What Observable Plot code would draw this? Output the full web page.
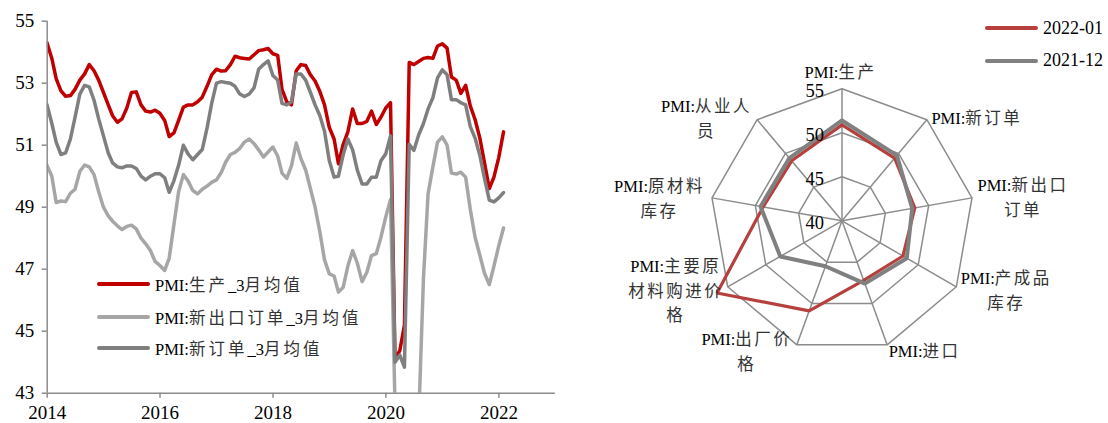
<!DOCTYPE html>
<html>
<head>
<meta charset="utf-8">
<script src="https://cdn.jsdelivr.net/npm/d3@7"></script>
<script src="https://cdn.jsdelivr.net/npm/@observablehq/plot@0.6"></script>
<style>
  body { margin: 0; background: #fff; }
  #wrap { position: relative; width: 1108px; height: 423px; overflow: hidden;
          font-family: "Liberation Serif", "Noto Sans CJK SC", serif; color: #000; }
  #line, #radar { position: absolute; top: 0; }
  #line { left: 0; }
  #radar { left: 560px; }
  #line svg [aria-label="y-axis tick"], #line svg [aria-label="x-axis tick"] { stroke: #8c8c8c; stroke-width: 1.5px; }
  #line svg [aria-label="y-axis tick label"], #line svg [aria-label="x-axis tick label"] { fill: #000; font-size: 19px; }
  .legend-row { position: absolute; height: 24px; display: flex; align-items: center; white-space: nowrap; }
  .swatch { display: inline-block; width: 53px; height: 4px; border-radius: 2px; margin-right: 5px; }
  .cjk { letter-spacing: 3px; color: #333; }
</style>
</head>
<body>
<div id="wrap">
  <div id="line"></div>
  <div id="radar"></div>
  <div id="legendLine"></div>
  <div id="legendRadar"></div>
</div>
<script>
// ---------- Line chart: 3-month averages of PMI sub-indices, monthly from 2013-12 ----------
const firstMonth = "2013-12";

const production3m = [
  54.3, 53.8, 53.15, 52.75, 52.58, 52.6, 52.8, 53.1, 53.3, 53.6, 53.4, 53.1,
  52.7, 52.3, 51.95, 51.74, 51.85, 52.2, 52.7, 52.72, 52.3, 52.1, 52.07, 52.13,
  52.03, 51.8, 51.28, 51.4, 51.8, 52.23, 52.3, 52.3, 52.4, 52.55, 52.9, 53.27,
  53.45, 53.39, 53.4, 53.6, 53.87, 53.82, 53.8, 53.78, 53.92, 54.05, 54.08, 54.12,
  53.95, 53.9, 52.8, 52.4, 52.3, 53.4, 53.6, 53.57, 53.27, 53.07, 52.73, 52.3,
  51.57, 51.2, 50.4, 51.03, 51.43, 52.17, 51.7, 51.7, 51.77, 52.1, 51.67, 51.9,
  52.2, 52.37, 44.1, 44.37, 45.2, 53.67, 53.6, 53.7, 53.8, 53.83, 53.8, 54.2,
  54.27, 54.13, 53.2, 53.1, 52.67, 52.93, 52.27, 51.83, 51.23, 50.43, 49.6, 49.97,
  50.6, 51.43
];

const newExport3m = [
  50.35, 50.0, 49.15, 49.2, 49.18, 49.45, 49.58, 50.15, 50.36, 50.3, 50.05, 49.5,
  49.0, 48.72, 48.55, 48.4, 48.28, 48.38, 48.42, 48.3, 48.0, 47.82, 47.6, 47.25,
  47.12, 46.96, 47.35, 48.45, 49.5, 50.05, 49.85, 49.54, 49.43, 49.58, 49.68, 49.8,
  49.88, 50.12, 50.45, 50.7, 50.77, 50.9, 51.1, 51.2, 51.05, 50.85, 50.62, 50.78,
  50.94, 50.65, 50.1, 49.93, 50.33, 51.07, 50.57, 50.2, 49.6, 49.0, 48.2, 47.3,
  46.85, 46.78, 46.26, 46.42, 47.1, 47.6, 47.2, 46.6, 46.9, 47.44, 47.5, 48.03,
  48.68, 49.25, 42.6, 41.3, 36.2, 38.4, 37.1, 42.1, 46.7, 49.43, 50.3, 51.1,
  51.27, 51.0, 50.1, 50.07, 50.13, 49.97, 48.93, 48.03, 47.45, 46.87, 46.5, 47.1,
  47.75, 48.33
];

const newOrders3m = [
  52.3, 51.7, 51.1, 50.7, 50.75, 51.2, 51.9, 52.65, 52.93, 52.88, 52.45, 51.85,
  51.3, 50.75, 50.43, 50.3, 50.27, 50.33, 50.33, 50.25, 50.0, 49.88, 50.0, 50.08,
  50.08, 49.95, 49.48, 49.86, 50.35, 51.0, 50.72, 50.53, 50.7, 50.86, 51.55, 52.35,
  53.0, 53.05, 53.02, 53.0, 52.9, 52.65, 52.57, 52.65, 52.85, 53.45, 53.6, 53.72,
  53.25, 53.1, 52.35, 52.3, 52.4, 53.3, 53.3, 53.1, 52.7, 52.3, 51.95, 51.45,
  50.5, 49.97, 50.0, 50.7, 51.2, 50.85, 50.2, 49.75, 49.75, 49.97, 49.97, 50.5,
  50.72, 51.3, 44.0, 44.23, 43.84, 51.03, 50.83, 51.33, 51.7, 52.17, 52.53, 53.17,
  53.43, 53.27, 52.47, 52.47, 52.37, 52.3, 51.6, 51.23, 50.67, 49.93, 49.23, 49.17,
  49.3, 49.47
];

const lineSeries = [
  {name: "PMI:生产_3月均值", values: production3m, color: "#c00000"},
  {name: "PMI:新出口订单_3月均值", values: newExport3m, color: "#a6a6a6"},
  {name: "PMI:新订单_3月均值", values: newOrders3m, color: "#7f7f7f"}
];

const yTicks = [43, 45, 47, 49, 51, 53, 55];
const xTickYears = [2014, 2016, 2018, 2020, 2022];
const xDomain = [new Date(Date.UTC(2014, 0, 1)), new Date(Date.UTC(2023, 0, 1))];

// Each monthly value is dated at the last day of its month.
const start = d3.utcParse("%Y-%m")(firstMonth);
const monthEnd = i => d3.utcDay.offset(d3.utcMonth.offset(start, i + 1), -1);

const lineMarks = lineSeries.map(s =>
  Plot.line(s.values.map((v, i) => ({date: monthEnd(i), value: v})), {
    x: "date", y: "value", stroke: s.color, strokeWidth: 3.5,
    strokeLinejoin: "round", strokeLinecap: "round", clip: true
  })
);

const lineChart = Plot.plot({
  width: 560, height: 423,
  marginLeft: 46.7, marginRight: 5.2, marginTop: 20.7, marginBottom: 30.3,
  style: {fontFamily: '"Liberation Serif", "Noto Sans CJK SC", serif', fontSize: "19px", background: "transparent"},
  x: {type: "utc", domain: xDomain, label: null},
  y: {domain: [43, 55], label: null},
  marks: [
    ...lineMarks,
    Plot.ruleY([43], {stroke: "#8c8c8c", strokeWidth: 1.5}),
    Plot.ruleX([xDomain[0]], {stroke: "#8c8c8c", strokeWidth: 1.5}),
    Plot.axisY(yTicks, {tickSize: 5, tickPadding: 8, label: null}),
    Plot.axisX(xTickYears.map(y => new Date(Date.UTC(y, 0, 1))),
      {tickSize: 5, tickPadding: 7, tickFormat: d3.utcFormat("%Y"), label: null})
  ]
});
document.getElementById("line").append(lineChart);

// ---------- Radar chart: PMI sub-indices, 2022-01 vs 2021-12 ----------
const radarAxes = [
  "PMI:生产", "PMI:新订单", "PMI:新出口\n订单", "PMI:产成品\n库存", "PMI:进口",
  "PMI:出厂价\n格", "PMI:主要原\n材料购进价\n格", "PMI:原材料\n库存", "PMI:从业人\n员"
];
const jan2022 = [50.9, 49.3, 48.4, 48.0, 47.2, 50.9, 56.4, 49.1, 48.9];
const dec2021 = [51.4, 49.7, 48.1, 48.5, 47.6, 45.5, 48.1, 49.4, 49.3];
const radarTicks = [40, 45, 50, 55];
const radarRings = [45, 50, 55];
const radarSeries = [
  {name: "2022-01", values: jan2022, color: "#b5403d", width: 3.2},
  {name: "2021-12", values: dec2021, color: "#808080", width: 4}
];

// label block offsets from each spoke end (px)
const labelOffsets = [
  [-1.5, -19], [50, -4], [51, -2], [50, 2], [37.5, 4],
  [-50, 5], [-52, 2], [-52.5, -1], [-50.6, -3]
];

const rMin = radarTicks[0], rMax = radarTicks[radarTicks.length - 1];
const n = radarAxes.length;
const angle = k => (k * 2 * Math.PI) / n;
const polar = (k, v) => {
  const r = (v - rMin) / (rMax - rMin);
  return {x: r * Math.sin(angle(k)), y: r * Math.cos(angle(k))};
};
const closedPath = (vals, key) =>
  [...vals, vals[0]].map((v, i) => ({...polar(i % n, v), key}));

const R = 132, cxL = 281.5, cyL = 220.3, RW = 548, RH = 423;

const ringRows = radarRings.flatMap(v => closedPath(Array(n).fill(v), "ring" + v));
const spokes = radarAxes.map((a, k) => ({...polar(k, rMax), k}));
const labelRows = radarAxes.map((a, k) => ({...polar(k, rMax), label: a, dx: labelOffsets[k][0], dy: labelOffsets[k][1]}));

const radar = Plot.plot({
  width: RW, height: RH,
  marginLeft: cxL - R, marginRight: RW - cxL - R, marginTop: cyL - R, marginBottom: RH - cyL - R,
  style: {fontFamily: '"Liberation Serif", "Noto Sans CJK SC", serif', background: "transparent", overflow: "visible"},
  x: {domain: [-1, 1], axis: null},
  y: {domain: [-1, 1], axis: null},
  marks: [
    Plot.line(ringRows, {x: "x", y: "y", z: "key", stroke: "#8c8c8c", strokeWidth: 1.5}),
    Plot.link(spokes, {x1: 0, y1: 0, x2: "x", y2: "y", stroke: "#8c8c8c", strokeWidth: 1.5}),
    ...radarSeries.map(s => Plot.line(closedPath(s.values, s.name), {
      x: "x", y: "y", stroke: s.color, strokeWidth: s.width, strokeLinejoin: "miter"
    })),
    Plot.text(radarTicks, {x: 0, y: v => (v - rMin) / (rMax - rMin), text: d => String(d),
      textAnchor: "end", dx: -18, dy: 2.5, fontSize: 18.5, fill: "#000"}),
    ...labelRows.map(d => Plot.text([d], {x: "x", y: "y", text: "label", dx: d.dx, dy: d.dy,
      textAnchor: "middle", lineAnchor: "middle", lineHeight: 1.5, fontSize: 16.5, fill: "#000"}))
  ]
});
document.getElementById("radar").append(radar);

// Wider tracking and softer tone for the CJK runs in SVG labels.
const CJK = /[\u3400-\u9fff]/;
function spaceCJK(root) {
  root.querySelectorAll("text, tspan").forEach(el => {
    if (el.children.length) return;
    const s = el.textContent;
    if (!CJK.test(s)) return;
    el.textContent = "";
    for (const part of s.split(/([\u3400-\u9fff]+)/)) {
      if (!part) continue;
      const t = document.createElementNS("http://www.w3.org/2000/svg", "tspan");
      t.textContent = part;
      if (CJK.test(part)) { t.setAttribute("letter-spacing", "2.5"); t.setAttribute("fill", "#333"); }
      el.appendChild(t);
    }
  });
}
spaceCJK(radar);

// ---------- Legends ----------
function richText(s) {
  return s.split(/([\u3400-\u9fff]+)/).filter(Boolean)
    .map(p => CJK.test(p) ? `<span class="cjk">${p}</span>` : p).join("");
}
const legendLine = document.getElementById("legendLine");
const lineLegendTops = [284, 316.7, 348.3];
lineSeries.forEach((s, i) => {
  const row = document.createElement("div");
  row.className = "legend-row";
  row.style.left = "97px";
  row.style.top = (lineLegendTops[i] - 12) + "px";
  row.style.fontSize = "16.5px";
  row.innerHTML = `<span class="swatch" style="background:${s.color}"></span><span>${richText(s.name)}</span>`;
  legendLine.append(row);
});

const legendRadar = document.getElementById("legendRadar");
const radarLegendTops = [28.3, 60.7];
radarSeries.forEach((s, i) => {
  const row = document.createElement("div");
  row.className = "legend-row";
  row.style.left = "985px";
  row.style.top = (radarLegendTops[i] - 12) + "px";
  row.style.fontSize = "18px";
  row.innerHTML = `<span class="swatch" style="background:${s.color}"></span><span>${s.name}</span>`;
  legendRadar.append(row);
});
</script>
</body>
</html>
